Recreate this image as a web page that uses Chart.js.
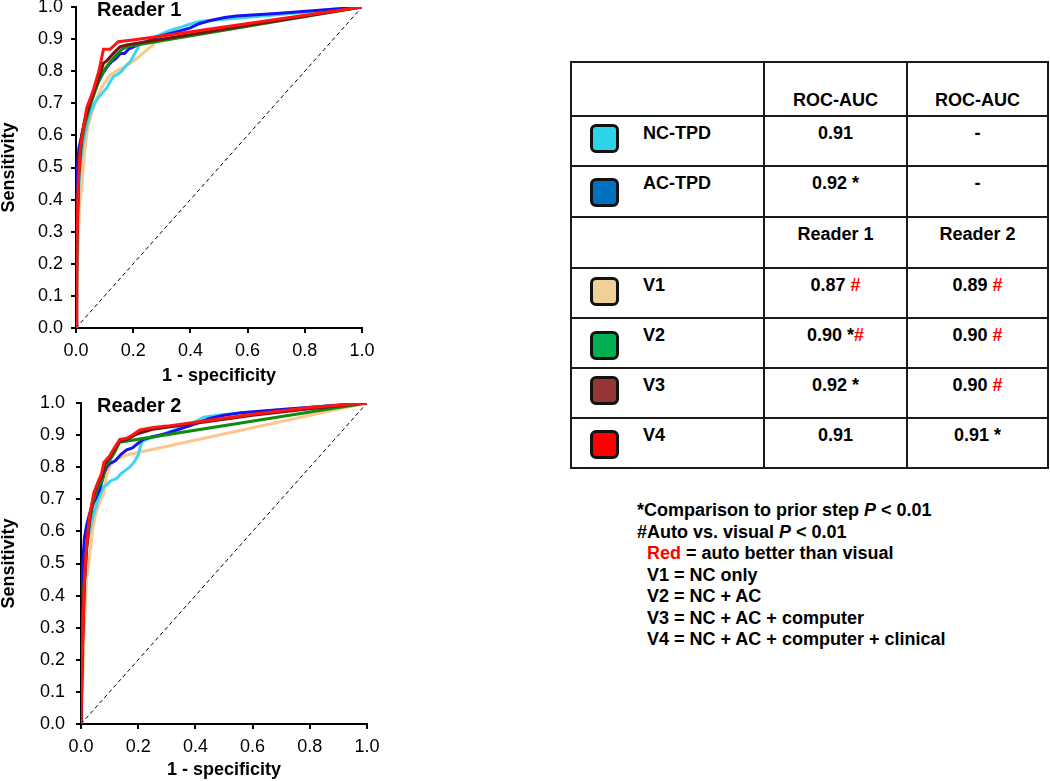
<!DOCTYPE html>
<html>
<head>
<meta charset="utf-8">
<script src="https://cdn.jsdelivr.net/npm/chart.js@4.4.0/dist/chart.umd.min.js"></script>
<style>
  body { margin: 0; background: #fff; font-family: "Liberation Sans", Arial, sans-serif; color: #000; }
  #page { position: relative; width: 1050px; height: 781px; overflow: hidden; }
  canvas { position: absolute; }
  #auc {
    position: absolute; left: 570px; top: 61px;
    display: grid;
    grid-template-columns: 193px 143px 141px;
    grid-template-rows: 54px 50px 51px 51px 50px 50px 50px 50px;
    border-top: 2px solid #1a1a1a; border-left: 2px solid #1a1a1a;
    font-weight: bold; font-size: 18px; line-height: 20px;
  }
  #auc > div {
    box-sizing: border-box; position: relative;
    border-right: 2px solid #1a1a1a; border-bottom: 2px solid #1a1a1a;
    padding-top: 6px; text-align: center;
  }
  #auc > div.hd { padding-top: 27px; }
  #auc .sw {
    position: absolute; left: 18px; width: 29px; height: 29px;
    box-sizing: border-box; border: 3px solid #111; border-radius: 6px;
  }
  #auc .lab { position: absolute; left: 71px; top: 6px; }
  .hash { color: #ff0000; }
  #notes {
    position: absolute; left: 637px; top: 500px;
    font-weight: bold; font-size: 18px; line-height: 21.5px; white-space: nowrap;
  }
  #notes .in { padding-left: 10px; }
</style>
</head>
<body>
<div id="page">
  <canvas id="reader1" width="380" height="390" style="left:0;top:0;width:380px;height:390px"></canvas>
  <canvas id="reader2" width="380" height="391" style="left:0;top:390px;width:380px;height:391px"></canvas>

  <div id="auc">
    <div class="hd"></div><div class="hd">ROC-AUC</div><div class="hd">ROC-AUC</div>

    <div><span class="sw" style="top:7px;background:#2dd3e6"></span><span class="lab">NC-TPD</span></div>
    <div>0.91</div><div>-</div>

    <div><span class="sw" style="top:11px;background:#0070c0"></span><span class="lab">AC-TPD</span></div>
    <div>0.92 *</div><div>-</div>

    <div></div><div>Reader 1</div><div>Reader 2</div>

    <div><span class="sw" style="top:8px;background:#eed098"></span><span class="lab">V1</span></div>
    <div>0.87 <span class="hash">#</span></div><div>0.89 <span class="hash">#</span></div>

    <div><span class="sw" style="top:12px;background:#00b050"></span><span class="lab">V2</span></div>
    <div>0.90 *<span class="hash">#</span></div><div>0.90 <span class="hash">#</span></div>

    <div><span class="sw" style="top:7px;background:#963634"></span><span class="lab">V3</span></div>
    <div>0.92 *</div><div>0.90 <span class="hash">#</span></div>

    <div><span class="sw" style="top:11px;background:#ff0000"></span><span class="lab">V4</span></div>
    <div>0.91</div><div>0.91 *</div>
  </div>

  <div id="notes">
    <div>*Comparison to prior step <i>P</i> &lt; 0.01</div>
    <div>#Auto vs. visual <i>P</i> &lt; 0.01</div>
    <div class="in"><span style="color:#ff0000">Red</span> = auto better than visual</div>
    <div class="in">V1 = NC only</div>
    <div class="in">V2 = NC + AC</div>
    <div class="in">V3 = NC + AC + computer</div>
    <div class="in">V4 = NC + AC + computer + clinical</div>
  </div>
</div>

<script>
// series, listed top-most first (Chart.js draws dataset 0 last)
const seriesNames = ['V4', 'V3', 'V2', 'AC-TPD', 'NC-TPD', 'V1'];
const lineColors = ['#ff1414', '#7a1010', '#118a11', '#1414f0', '#3cd6f2', '#fcc68c'];
const readerTitles = ['Reader 1', 'Reader 2'];
const xTickStep = 0.2;
const yTickStep = 0.1;
const chanceLine = [[0, 0], [1, 1]];

// Reader 1 curves, [1 - specificity, sensitivity]
const r1V4 = [[0,0],[0.003,0.25],[0.008,0.45],[0.015,0.56],[0.026,0.622],[0.037,0.684],[0.06,0.74],[0.08,0.8],[0.096,0.868],[0.119,0.868],[0.148,0.892],[0.212,0.899],[0.3,0.91],[1,1]];
const r1V3 = [[0,0],[0.004,0.32],[0.01,0.5],[0.02,0.6],[0.03,0.645],[0.045,0.69],[0.06,0.73],[0.08,0.78],[0.096,0.825],[0.107,0.832],[0.13,0.855],[0.154,0.876],[0.177,0.882],[1,1]];
const r1V2 = [[0,0],[0.004,0.3],[0.01,0.48],[0.02,0.58],[0.03,0.63],[0.045,0.68],[0.06,0.72],[0.08,0.77],[0.1,0.805],[0.12,0.83],[0.14,0.85],[0.16,0.868],[0.18,0.877],[1,1]];
const r1AcTpd = [[0,0],[0.002,0.3],[0.005,0.5],[0.01,0.56],[0.015,0.58],[0.025,0.62],[0.035,0.66],[0.05,0.7],[0.065,0.74],[0.08,0.77],[0.095,0.795],[0.11,0.815],[0.125,0.83],[0.14,0.84],[0.155,0.855],[0.17,0.855],[0.185,0.87],[0.2,0.875],[0.22,0.885],[0.25,0.892],[0.28,0.905],[0.32,0.915],[0.36,0.925],[0.4,0.935],[0.43,0.948],[0.47,0.958],[0.52,0.967],[0.56,0.972],[0.7,0.98],[0.85,0.99],[1,1]];
const r1NcTpd = [[0,0],[0.003,0.25],[0.008,0.4],[0.012,0.47],[0.02,0.55],[0.03,0.6],[0.04,0.64],[0.05,0.67],[0.065,0.7],[0.08,0.72],[0.095,0.735],[0.107,0.747],[0.115,0.76],[0.13,0.783],[0.145,0.79],[0.16,0.8],[0.177,0.819],[0.19,0.83],[0.206,0.856],[0.215,0.87],[0.224,0.887],[0.25,0.895],[0.28,0.908],[0.31,0.92],[0.34,0.93],[0.37,0.938],[0.4,0.947],[0.43,0.955],[0.47,0.958],[0.52,0.962],[0.6,0.968],[0.7,0.976],[0.8,0.984],[0.9,0.993],[1,1]];
const r1V1 = [[0,0],[0.005,0.2],[0.012,0.38],[0.02,0.44],[0.03,0.55],[0.04,0.62],[0.055,0.67],[0.07,0.71],[0.09,0.75],[0.105,0.77],[0.119,0.788],[0.15,0.805],[0.189,0.824],[0.22,0.845],[0.259,0.875],[0.294,0.9],[0.33,0.91],[1,1]];

// Reader 2 curves
const r2V4 = [[0,0],[0.004,0.2],[0.012,0.45],[0.02,0.56],[0.03,0.65],[0.045,0.72],[0.06,0.755],[0.072,0.78],[0.08,0.815],[0.1,0.835],[0.12,0.865],[0.136,0.887],[0.16,0.89],[0.18,0.9],[0.206,0.916],[0.253,0.924],[0.3,0.928],[0.4,0.94],[0.6,0.965],[0.8,0.986],[1,1]];
const r2V3 = [[0,0],[0.004,0.2],[0.012,0.44],[0.02,0.55],[0.03,0.64],[0.045,0.715],[0.06,0.75],[0.075,0.775],[0.085,0.812],[0.1,0.83],[0.12,0.86],[0.135,0.882],[0.16,0.887],[0.2,0.905],[0.25,0.918],[0.4,0.937],[0.6,0.962],[0.8,0.982],[1,1]];
const r2V2 = [[0,0],[0.004,0.22],[0.01,0.42],[0.02,0.55],[0.03,0.63],[0.045,0.7],[0.06,0.74],[0.075,0.76],[0.085,0.8],[0.1,0.82],[0.12,0.85],[0.135,0.878],[1,1]];
const r2AcTpd = [[0,0],[0.002,0.35],[0.006,0.5],[0.012,0.58],[0.02,0.62],[0.03,0.655],[0.04,0.68],[0.05,0.7],[0.065,0.73],[0.08,0.78],[0.09,0.8],[0.101,0.812],[0.12,0.82],[0.14,0.84],[0.16,0.854],[0.18,0.86],[0.2,0.875],[0.218,0.887],[0.25,0.895],[0.3,0.905],[0.35,0.92],[0.4,0.935],[0.45,0.952],[0.5,0.962],[0.56,0.97],[0.7,0.98],[0.85,0.99],[1,1]];
const r2NcTpd = [[0,0],[0.004,0.3],[0.01,0.48],[0.02,0.56],[0.03,0.6],[0.04,0.64],[0.05,0.67],[0.06,0.7],[0.07,0.72],[0.078,0.739],[0.09,0.745],[0.1,0.755],[0.11,0.76],[0.125,0.765],[0.14,0.78],[0.155,0.79],[0.171,0.801],[0.185,0.815],[0.2,0.838],[0.212,0.879],[0.24,0.89],[0.28,0.9],[0.32,0.915],[0.36,0.927],[0.4,0.942],[0.43,0.956],[0.47,0.961],[0.55,0.968],[0.7,0.978],[0.85,0.99],[1,1]];
const r2V1 = [[0,0],[0.008,0.2],[0.015,0.38],[0.02,0.46],[0.03,0.52],[0.04,0.6],[0.05,0.65],[0.065,0.69],[0.08,0.72],[0.09,0.78],[0.1,0.8],[0.119,0.822],[0.16,0.838],[1,1]];

const reader1Curves = [r1V4, r1V3, r1V2, r1AcTpd, r1NcTpd, r1V1];
const reader2Curves = [r2V4, r2V3, r2V2, r2AcTpd, r2NcTpd, r2V1];

const FONT = '"Liberation Sans", Arial, sans-serif';

// draws the "Reader n" label inside the plot, top left
const readerTitle = {
    id: 'readerTitle',
    afterDraw(chart, args, opts) {
        const ctx = chart.ctx;
        ctx.save();
        ctx.font = 'bold 20px ' + FONT;
        ctx.fillStyle = '#000';
        ctx.textBaseline = 'middle';
        ctx.textAlign = 'left';
        ctx.fillText(opts.text, opts.x, chart.chartArea.top + 3);
        ctx.restore();
    }
};

function toPoints(pairs) {
    return pairs.map(p => ({ x: p[0], y: p[1] }));
}

function makeChart(id, title, curves, box) {
    const datasets = curves.map((pairs, i) => ({
        label: seriesNames[i],
        data: toPoints(pairs),
        borderColor: lineColors[i],
        backgroundColor: lineColors[i],
        borderWidth: 3,
        showLine: true,
        pointRadius: 0,
        tension: 0
    }));
    datasets.push({
        label: 'chance',
        data: toPoints(chanceLine),
        borderColor: '#000',
        borderWidth: 1,
        borderDash: [4, 3],
        showLine: true,
        pointRadius: 0
    });

    return new Chart(document.getElementById(id), {
        type: 'scatter',
        data: { datasets },
        options: {
            responsive: false,
            devicePixelRatio: 1,
            animation: false,
            layout: { padding: { left: 0, top: box.top, right: box.right, bottom: 0 } },
            plugins: {
                legend: { display: false },
                tooltip: { enabled: false },
                readerTitle: { text: title, x: 97 }
            },
            scales: {
                x: {
                    type: 'linear', min: 0, max: 1,
                    afterFit: s => { s.height = box.xh; s.paddingLeft = 0; s.paddingRight = 0; },
                    border: { display: true, color: '#000', width: 2 },
                    grid: { drawOnChartArea: false, drawTicks: true, tickLength: 5, color: '#000', lineWidth: 2 },
                    ticks: {
                        stepSize: xTickStep, padding: 7, color: '#000', maxRotation: 0, autoSkip: false,
                        font: { size: 18, family: FONT },
                        callback: v => v.toFixed(1)
                    },
                    title: {
                        display: true, text: '1 - specificity', color: '#000',
                        font: { size: 18, weight: 'bold', family: FONT, lineHeight: 1 },
                        padding: { top: 0, bottom: box.xtb }
                    }
                },
                y: {
                    type: 'linear', min: 0, max: 1,
                    afterFit: s => { s.width = box.yw; s.paddingTop = 0; s.paddingBottom = 0; },
                    border: { display: true, color: '#000', width: 2 },
                    grid: { drawOnChartArea: false, drawTicks: true, tickLength: 5, color: '#000', lineWidth: 2 },
                    ticks: {
                        stepSize: yTickStep, padding: box.ypad, color: '#000', autoSkip: false,
                        font: { size: 18, family: FONT },
                        callback: v => v.toFixed(1)
                    },
                    title: {
                        display: true, text: 'Sensitivity', color: '#000',
                        font: { size: 18, weight: 'bold', family: FONT, lineHeight: 1 },
                        padding: { top: 0, bottom: 0 }
                    }
                }
            }
        },
        plugins: [readerTitle]
    });
}

makeChart('reader1', readerTitles[0], reader1Curves, { top: 7, right: 18, xh: 62, yw: 76, xtb: 5, ypad: 8 });
makeChart('reader2', readerTitles[1], reader2Curves, { top: 13, right: 13, xh: 57, yw: 81, xtb: 2, ypad: 11 });
</script>
</body>
</html>
